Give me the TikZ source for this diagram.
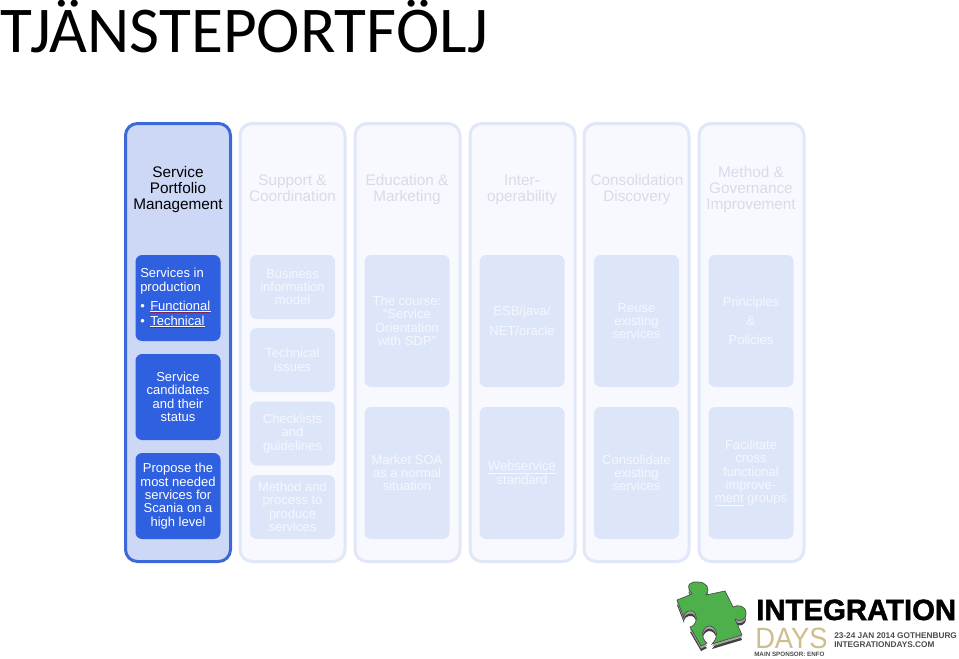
\documentclass[tikz,border=0pt]{standalone}
\usepackage{fontspec}
\setmainfont{Liberation Sans}
\newfontfamily\titlefont{Carlito}
\newfontfamily\logofont[FakeBold=1.6]{Liberation Sans Bold}
\newfontfamily\daysfont[FakeStretch=0.93]{Liberation Sans}
\usetikzlibrary{decorations.pathmorphing}
\usepackage{xcolor}

\definecolor{activeblue}{HTML}{2E60E0}
\definecolor{activeedge}{HTML}{3C69D8}
\definecolor{activefill}{HTML}{CCD8F5}
\definecolor{paleedge}{HTML}{DFE7F8}
\definecolor{palefill}{HTML}{F7F9FE}
\definecolor{palebox}{HTML}{DDE6F9}
\definecolor{paletext}{HTML}{F5F7FE}
\definecolor{palehead}{HTML}{D8DCE8}
\definecolor{daystan}{HTML}{CDBE8E}
\definecolor{puzzlegreen}{HTML}{4DB04A}

\def\puzzlepath{(677,600) -- (692,594) .. controls (684,584) and (692,581) .. (698,582) .. controls (706,582) and (711,588) .. (706,595) -- (725,591) -- (733,607) .. controls (738,604) and (746,606) .. (746,613) .. controls (746,621) and (739,622) .. (735,619) -- (742,635) -- (725,640) -- (712,644) .. controls (720,636) and (716,626) .. (709,626) .. controls (702,627) and (700,638) .. (707,643) -- (701,646) -- (690,627) .. controls (698,625) and (698,613) .. (692,611) .. controls (687,610) and (683,614) .. (684,618) -- cycle}

\begin{document}
\begin{tikzpicture}[
        x=0.75pt, y=-0.75pt,
        column_active/.style={rectangle, draw=activeedge, line width=2.25pt, fill=activefill, rounded corners=9pt, minimum width=78.75pt, minimum height=328.5pt, inner sep=0pt},
        column_pale/.style={column_active, draw=paleedge, fill=palefill},
        head_active/.style={align=center, inner sep=0pt, text=black, font={\fontsize{11.5}{12}\selectfont}},
        head_pale/.style={head_active, text=palehead},
        box_active/.style={rectangle, fill=activeblue, rounded corners=5pt, minimum width=63.75pt, minimum height=64.5pt, inner sep=0pt, align=center, text=white, font={\fontsize{9.75}{10}\selectfont}},
        box_pale/.style={box_active, fill=palebox, text=paletext, minimum height=99pt},
        box_small/.style={box_pale, minimum height=48pt},
        item_label/.style={inner sep=0pt, anchor=base west, text=white, font={\fontsize{9.75}{10}\selectfont}},
        logo_label/.style={inner sep=0pt, anchor=base west, text=black!70, font={\bfseries\fontsize{6.2}{7}\selectfont}},
        wavy_line/.style={draw=red!70!black, line width=0.3pt, decorate, decoration={snake, amplitude=0.35pt, segment length=2pt}}
    ]
        \useasboundingbox (0,0) rectangle (959,658);

        \node[anchor=base west, inner sep=0pt, font={\titlefont\fontsize{49}{50}\selectfont}] (title) at (0,52) {TJÄNSTEPORTFÖLJ};

        % Columns
        \node[column_active] (portfolio) at (178,342.5) {};
        \node[column_pale] (support) at (292.5,342.5) {};
        \node[column_pale] (education) at (407.5,342.5) {};
        \node[column_pale] (interop) at (522.5,342.5) {};
        \node[column_pale] (consolidation) at (636.5,342.5) {};
        \node[column_pale] (method) at (751.5,342.5) {};

        % Headers
        \node[head_active] (portfolio_head) at (178,190) {Service\\Portfolio\\Management};
        \node[head_pale] (support_head) at (292.5,188) {Support \&\\Coordination};
        \node[head_pale] (education_head) at (407,190) {Education \&\\Marketing};
        \node[head_pale] (interop_head) at (522,190) {Inter-\\operability};
        \node[head_pale] (consolidation_head) at (637,190) {Consolidation\\Discovery};
        \node[head_pale] (method_head) at (751,190) {Method \&\\Governance\\Improvement};

        % Service Portfolio Management
        \node[box_active] (production) at (178,298) {};
        \node[item_label, align=left, anchor=north west] (production_text) at (140,268) {Services in\\production};
        \node[item_label] (bullet_one) at (140,310) {•};
        \node[item_label] (functional) at (150,310) {Functional};
        \node[item_label] (bullet_two) at (140,325) {•};
        \node[item_label] (technical) at (150,325) {Technical};
        \draw[white, line width=0.4pt] ([yshift=-1pt]functional.south west) -- ([yshift=-1pt]functional.south east);
        \draw[white, line width=0.4pt] ([yshift=-1pt]technical.south west) -- ([yshift=-1pt]technical.south east);
        \draw[wavy_line] ([yshift=-1.6pt]functional.south west) -- ([yshift=-1.6pt]functional.south east);
        \draw[wavy_line] ([yshift=-1.6pt]technical.south west) -- ([yshift=-1.6pt]technical.south east);
        \node[box_active] (candidates) at (178,397) {Service\\candidates\\and their\\status};
        \node[box_active] (propose) at (178,496) {Propose the\\most needed\\services for\\Scania on a\\high level};

        % Support & Coordination
        \node[box_small] (business) at (292.5,287) {Business\\information\\model};
        \node[box_small] (issues) at (292.5,360) {Technical\\issues};
        \node[box_small] (checklists) at (292.5,433.5) {Checklists\\and\\guidelines};
        \node[box_small] (process) at (292.5,507) {Method and\\process to\\produce\\services};

        % Education & Marketing
        \node[box_pale] (course) at (407,321) {The course:\\"Service\\Orientation\\with SDP"};
        \node[box_pale] (market) at (407,473) {Market SOA\\as a normal\\situation};

        % Interoperability
        \node[box_pale] (esb) at (522,321) {ESB/java/\\[4.5pt]NET/oracle};
        \node[box_pale] (webservice) at (522,473) {\underline{Webservice}\\standard};

        % Consolidation Discovery
        \node[box_pale] (reuse) at (636.5,321) {Reuse\\existing\\services};
        \node[box_pale] (consolidate) at (636.5,473) {Consolidate\\existing\\services};

        % Method & Governance Improvement
        \node[box_pale] (principles) at (751,321) {Principles\\[4.5pt]\&\\[4.5pt]Policies};
        \node[box_pale] (facilitate) at (751,473) {Facilitate\\cross\\functional\\improve-\\\underline{ment} groups};

        % Logo
        \fill[black!75, shift={(0,5)}] \puzzlepath;
        \fill[black!35, shift={(0,2.5)}] \puzzlepath;
        \filldraw[draw=black!70, line width=0.5pt, fill=puzzlegreen] \puzzlepath;
        \node[inner sep=0pt, anchor=base west, font={\logofont\fontsize{22}{24}\selectfont}] (integration) at (756,620) {INTEGRATION};
        \node[inner sep=0pt, anchor=base west, text depth=0pt, text=daystan, font={\daysfont\fontsize{22}{24}\selectfont}] (days) at (755,648) {DAYS};
        \node[logo_label] (dates) at (834,638) {23-24 JAN 2014 GOTHENBURG};
        \node[logo_label] (website) at (834,647) {INTEGRATIONDAYS.COM};
        \node[logo_label, font={\bfseries\fontsize{4.7}{5}\selectfont}] (sponsor) at (754,656.5) {MAIN SPONSOR: ENFO};

    \end{tikzpicture}
\end{document}
